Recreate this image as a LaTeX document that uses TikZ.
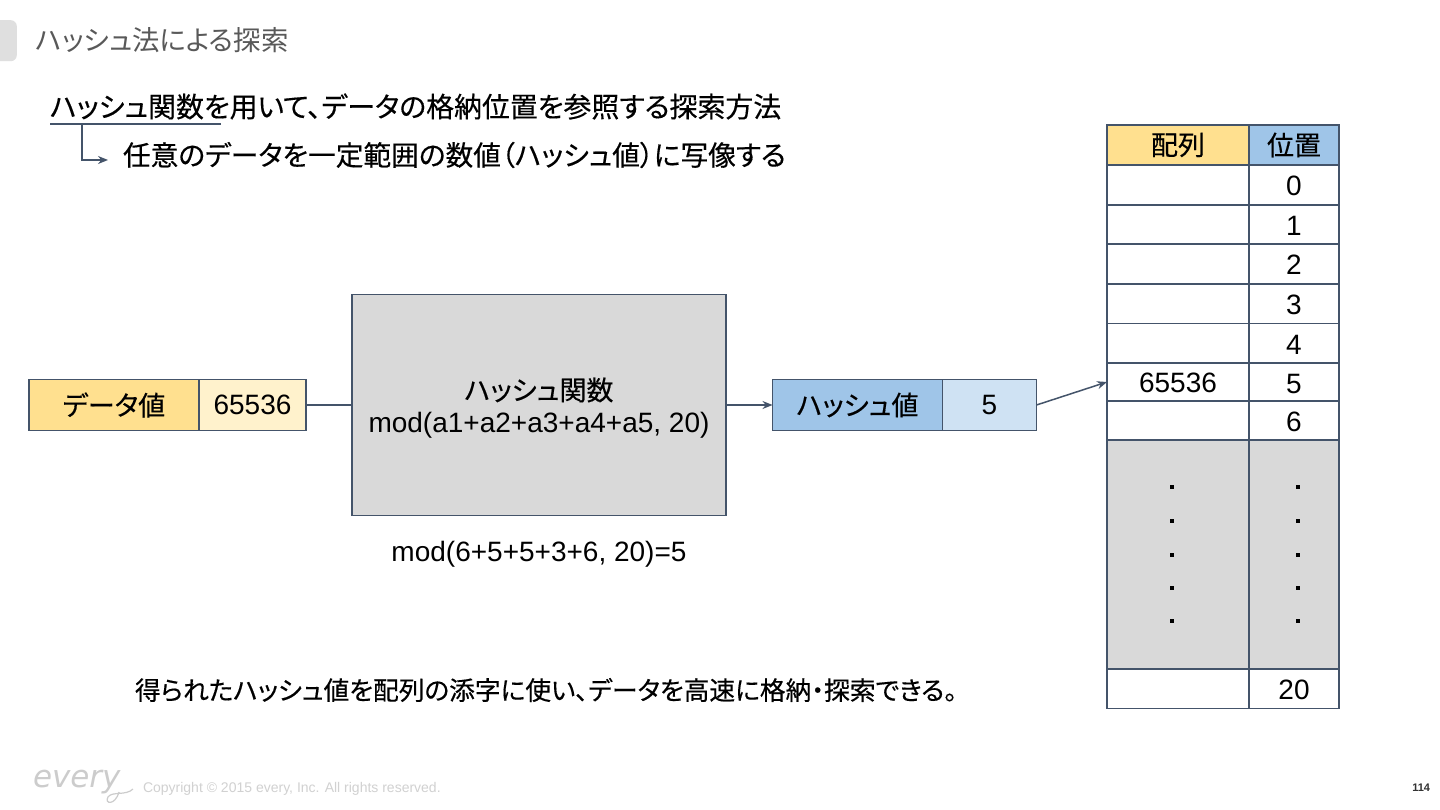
\documentclass[tikz,border=0pt]{standalone}
\usepackage{fontspec}
\usetikzlibrary{arrows.meta}
\setmainfont{Liberation Sans}
\newfontfamily\jp[RawFeature=+palt,FakeBold=0.35]{Noto Sans CJK JP}
\newfontfamily\jpt[RawFeature=+palt]{Noto Sans CJK JP}
\newfontfamily\logofont{DejaVu Sans}
\definecolor{edgeblue}{HTML}{44546A}
\definecolor{yellowA}{HTML}{FFE08F}
\definecolor{yellowB}{HTML}{FFF2CC}
\definecolor{blueA}{HTML}{9FC5E8}
\definecolor{blueB}{HTML}{CFE2F3}
\definecolor{boxgray}{HTML}{D9D9D9}
\definecolor{titlegray}{HTML}{595959}
\newcommand{\fs}[1]{\fontsize{#1pt}{#1pt}\selectfont}
\newcommand{\dn}[1]{\raisebox{-11pt}[0pt][0pt]{#1}}
\newcommand{\dnb}[1]{\raisebox{-9.5pt}[0pt][0pt]{#1}}
\tikzset{
  x=1pt,y=-1pt,
  cell/.style={draw=edgeblue,line width=1.6pt,inner sep=0pt,outer sep=0pt,anchor=north west,font=\fs{27}\jp,text=black},
  txt/.style={inner sep=0pt,outer sep=0pt,text=black},
  body/.style={txt,anchor=west,font=\fs{27.8}\jp},
  conn/.style={draw=edgeblue,line width=1.5pt},
  arr/.style={conn,-{Stealth[length=10pt,width=8pt]}},
}
\newcommand{\cellat}[7]{\node[cell,fill=#6,minimum width=#3pt,minimum height=#4pt] (#5) at (#1,#2) {#7};}
\begin{document}
\begin{tikzpicture}
\useasboundingbox (0,0) rectangle (1440,810);
\fill[white] (0,0) rectangle (1440,810);
\begin{scope}
\clip (0,0) rectangle (1440,810);
\node[fill=boxgray!85,rounded corners=6pt,minimum width=40pt,minimum height=41pt,inner sep=0pt,anchor=north east] (tab) at (17,20) {};
\end{scope}
\node[txt,anchor=west,font=\fs{27.4}\jpt,text=titlegray] (title) at (36,40.5) {ハッシュ法による探索};
\node[body,font=\fs{27.9}\jp] (lead) at (50,106.5) {ハッシュ関数を用いて、データの格納位置を参照する探索方法};
\node[body,font=\fs{27.7}\jp] (sub) at (123,155) {任意のデータを一定範囲の数値（ハッシュ値）に写像する};
\coordinate (ulA) at (50,124.5);
\coordinate (ulB) at (221,124.5);
\coordinate (elbow) at (82,124.5);
\coordinate (elbowEnd) at (108,160);
\draw[conn,line width=2pt] (ulA) -- (ulB);
\draw[arr] (elbow) |- (elbowEnd);
% data
\cellat{29}{379.5}{170}{51}{dataL}{yellowA}{デ{}ータ値}
\cellat{199}{379.5}{107}{51}{dataV}{yellowB}{\rmfamily\fs{28}\dnb{65536}}
% function
\node[cell,fill=boxgray,minimum width=374pt,minimum height=221pt,align=center] (func) at (352,294.5) {};
\node[txt,font=\fs{27}\jp] (funcA) at (539,390) {ハッシュ関数};
\node[txt,font=\fs{28}] (funcB) at (539,425) {mod(a1+a2+a3+a4+a5, 20)};
\node[txt,font=\fs{28}] (calc) at (539,554.5) {mod(6+5+5+3+6, 20)=5};
% hash
\cellat{772.5}{379.5}{170}{51}{hashL}{blueA}{ハッシュ値}
\cellat{942.5}{379.5}{94}{51}{hashV}{blueB}{\rmfamily\fs{28}\dnb{5}}
% table
\cellat{1107}{125}{142}{40}{hArr}{yellowA}{\raisebox{-1pt}{配列}}
\cellat{1249}{125}{90}{40}{hPos}{blueA}{\raisebox{-1pt}{位置}}
\foreach \n/\y/\h/\t in {0/165/40/0,1/205/39/1,2/244/40/2,3/284/39.5/3,4/323.5/39.5/4,5/363/38/5,6/401/39/6,20/669/39.5/20}{
  \node[cell,fill=white,minimum width=142pt,minimum height=\h pt] (a\n) at (1107,\y) {};
  \node[cell,fill=white,minimum width=90pt,minimum height=\h pt,font=\fs{28}] (p\n) at (1249,\y) {\dn{\t}};
}
\node[txt,font=\fs{28}] (a5text) at ([yshift=-1pt]a5.center) {65536};
\node[cell,fill=boxgray,minimum width=142pt,minimum height=229pt] (aGap) at (1107,440) {};
\node[cell,fill=boxgray,minimum width=90pt,minimum height=229pt] (pGap) at (1249,440) {};
\foreach \i/\y in {1/487,2/521,3/555,4/588,5/621}{
  \fill[black] (1169.5,\y-2) rectangle ++(4,4);
  \fill[black] (1295.5,\y-2) rectangle ++(4,4);
}
% connectors
\draw[conn] (dataV.east) -- (dataV.east -| func.west);
\draw[arr] (func.east |- hashL.west) -- (hashL.west);
\draw[arr] (hashV.east) -- (a5.west);
\node[body,font=\fs{25.7}\jp] (note) at (135,690) {得られたハッシュ値を配列の添字に使い、データを高速に格納・探索できる。};
% footer
\node[txt,anchor=west,font=\fs{31}\logofont\itshape,text=black!20] (logo) at (33,782) {every};
\draw[black!20,line width=1.2pt] (119,792) .. controls (115,806) and (104,804) .. (108,797) .. controls (112,791) and (126,796) .. (133,789);
\node[txt,anchor=west,font=\fs{14},text=black!18] (copy) at (143,788.5) {Copyright © 2015 every, Inc. All rights reserved.};
\node[txt,anchor=east,font=\fs{11}\bfseries,text=black!80] (page) at (1430,788) {114};
\end{tikzpicture}
\end{document}
